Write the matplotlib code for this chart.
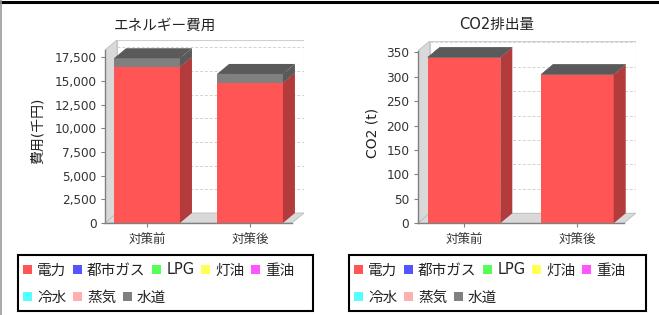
import numpy as np
import matplotlib.pyplot as plt
from matplotlib.patches import Polygon, Rectangle, Patch
from matplotlib.lines import Line2D
from matplotlib.ticker import FuncFormatter

plt.rcParams['font.family'] = ['DejaVu Sans', 'Noto Sans CJK JP']

categories = ['対策前', '対策後']
series_names = ['電力', '都市ガス', 'LPG', '灯油', '重油', '冷水', '蒸気', '水道']
series_colors = ['#ff5555', '#5555ff', '#55ff55', '#ffff55',
                 '#ff55ff', '#55ffff', '#ffafaf', '#808080']

# エネルギー費用 (千円)
cost_elec = [16500, 14820]
cost_gas = [0, 0]
cost_lpg = [0, 0]
cost_kerosene = [0, 0]
cost_heavy_oil = [0, 0]
cost_chilled = [0, 0]
cost_steam = [0, 0]
cost_water = [900, 920]

# CO2排出量 (t)
co2_elec = [340, 305]
co2_gas = [0, 0]
co2_lpg = [0, 0]
co2_kerosene = [0, 0]
co2_heavy_oil = [0, 0]
co2_chilled = [0, 0]
co2_steam = [0, 0]
co2_water = [0, 0]

cost_series = [cost_elec, cost_gas, cost_lpg, cost_kerosene,
               cost_heavy_oil, cost_chilled, cost_steam, cost_water]
co2_series = [co2_elec, co2_gas, co2_lpg, co2_kerosene,
              co2_heavy_oil, co2_chilled, co2_steam, co2_water]

W, H = 659, 315
fig = plt.figure(figsize=(W / 100, H / 100), dpi=100)


def px_box(left, top, right, bottom):
    return [left / W, 1 - bottom / H, (right - left) / W, (bottom - top) / H]


def darker(c):
    r, g, b = [int(c[i:i + 2], 16) / 255 for i in (1, 3, 5)]
    return (r * 0.7, g * 0.7, b * 0.7)


def bars3d(ax, values, ytop, step, dx, dy, fmt):
    n = len(categories)
    xl, xr = -0.408, n - 1 + 0.408
    ax.set_xlim(xl, xr + dx)
    ax.set_ylim(0, ytop + dy)
    wall = '#d9d9d9'
    # back wall, left wall, floor
    ax.add_patch(Rectangle((xl + dx, dy), xr - xl, ytop, fc='white',
                           ec='#cfcfcf', lw=0.8, zorder=0.5))
    ticks = np.arange(0, ytop, step)
    for v in ticks[1:]:
        ax.plot([xl + dx, xr + dx], [v + dy, v + dy], color='#d2d2d2',
                lw=0.7, ls=(0, (3, 2)), zorder=0.6)
    ax.add_patch(Polygon([(xl, 0), (xl + dx, dy), (xl + dx, ytop + dy), (xl, ytop)],
                         fc=wall, ec='#bdbdbd', lw=0.6, zorder=0.7))
    ax.add_patch(Polygon([(xl, 0), (xr, 0), (xr + dx, dy), (xl + dx, dy)],
                         fc=wall, ec='#bdbdbd', lw=0.6, zorder=0.7))
    w = 0.64
    for i in range(n):
        bottom = 0
        x0, x1 = i - w / 2, i + w / 2
        for vals, col in zip(values, series_colors):
            h = vals[i]
            dk = darker(col)
            ax.add_patch(Rectangle((x0, bottom), w, h, fc=col, ec='none', zorder=1))
            ax.add_patch(Polygon([(x1, bottom), (x1 + dx, bottom + dy),
                                  (x1 + dx, bottom + h + dy), (x1, bottom + h)],
                                 fc=dk, ec='none', zorder=1))
            top = bottom + h
            ax.add_patch(Polygon([(x0, top), (x1, top), (x1 + dx, top + dy),
                                  (x0 + dx, top + dy)], fc=dk, ec='none', zorder=1))
            bottom = top
    for s in ['top', 'right']:
        ax.spines[s].set_visible(False)
    ax.spines['left'].set_bounds(0, ytop)
    ax.spines['bottom'].set_bounds(xl, xr)
    for s in ['left', 'bottom']:
        ax.spines[s].set_color('#808080')
        ax.spines[s].set_linewidth(1.0)
    ax.set_yticks(ticks)
    ax.yaxis.set_major_formatter(FuncFormatter(fmt))
    ax.set_xticks(range(n))
    ax.set_xticklabels(categories)
    ax.tick_params(axis='y', length=3, width=0.8, color='#808080', pad=3,
                   labelsize=8.7, labelcolor='#333333')
    ax.tick_params(axis='x', length=3, width=0.8, color='#808080', pad=4,
                   labelsize=9, labelcolor='#333333')


ax1 = fig.add_axes(px_box(105, 40, 304, 223))
bars3d(ax1, cost_series, 18270, 2500, 0.1165, 1056, lambda v, p: f'{int(v):,}')
ax2 = fig.add_axes(px_box(417.7, 41, 635.7, 223.3))
bars3d(ax2, co2_series, 353, 50, 0.106, 20.5, lambda v, p: f'{int(v)}')

fig.text(165 / W, 1 - 25 / H, 'エネルギー費用', ha='center', va='center',
         fontsize=10.5, color='#222222')
fig.text(497 / W, 1 - 25 / H, 'CO2排出量', ha='center', va='center',
         fontsize=10.5, color='#222222')
fig.text(38 / W, 1 - 131 / H, '費用(千円)', ha='center', va='center',
         rotation=90, fontsize=10, color='#222222')
fig.text(373 / W, 1 - 133 / H, 'CO2 (t)', ha='center', va='center',
         rotation=90, fontsize=10, color='#222222')

# legends: flow layout in two rows inside a framed box
handles = [Patch(fc=c, ec='none') for c in series_colors]
for left, right in [(18, 313), (349, 646)]:
    fig.add_artist(Rectangle((left / W, 1 - 311 / H), (right - left) / W, 56 / H,
                             transform=fig.transFigure, fill=False,
                             ec='black', lw=1.5))
    for rows, yc in [((0, 5), 270), ((5, 8), 297)]:
        a, b = rows
        leg = fig.legend(handles[a:b], series_names[a:b], ncol=b - a,
                         loc='center left',
                         bbox_to_anchor=((left + 5) / W, 1 - yc / H),
                         frameon=False, fontsize=10.5, handlelength=0.62,
                         handleheight=0.62, handletextpad=0.35,
                         columnspacing=0.45, borderpad=0, borderaxespad=0)
        for t in leg.get_texts():
            t.set_color('#222222')

fig.add_artist(Line2D([0, 1], [1 - 1.5 / H, 1 - 1.5 / H], transform=fig.transFigure,
                      color='black', lw=2.2))
fig.add_artist(Line2D([0.8 / W, 0.8 / W], [0, 1], transform=fig.transFigure,
                      color='#999999', lw=1.2))

fig.savefig('out.png', dpi=100)
